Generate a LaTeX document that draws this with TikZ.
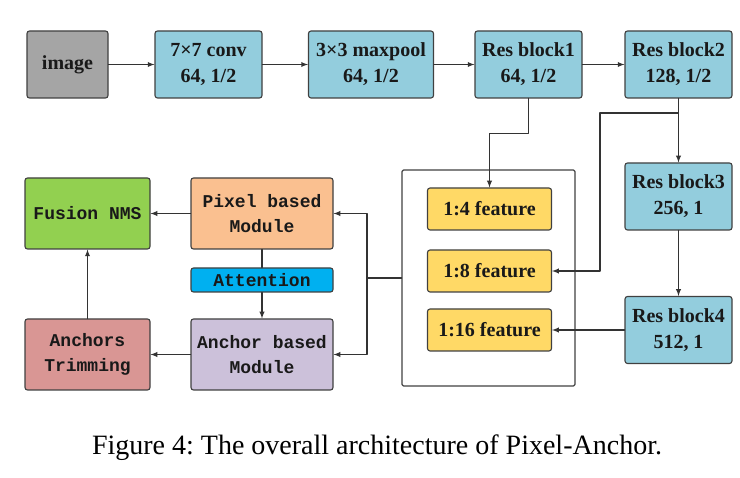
\documentclass[tikz,border=0pt]{standalone}
\usepackage{fontspec}
\setmainfont{Liberation Serif}
\newfontfamily\codefont{Liberation Mono}
\usepackage{xcolor}
\usepackage{tikz}
\usetikzlibrary{
    arrows,
    arrows.meta,
    calc
}
\definecolor{imggray}{HTML}{A5A5A5}
\definecolor{resblue}{HTML}{93CDDD}
\definecolor{featyellow}{HTML}{FFD966}
\definecolor{fusegreen}{HTML}{92D050}
\definecolor{pixpeach}{HTML}{FAC090}
\definecolor{attncyan}{HTML}{00B0F0}
\definecolor{anclilac}{HTML}{CCC1DA}
\definecolor{trimred}{HTML}{D99694}
\frenchspacing

\begin{document}
\begin{tikzpicture}[x=1pt,y=-1pt,line cap=round,line join=round,
   blk/.style={draw=black!75,line width=1.1pt,rounded corners=2.5pt,
     align=center,inner sep=0pt,text=black!90},
   netbox/.style={blk,minimum width=107pt,minimum height=67pt,
     font=\fontsize{20}{26}\selectfont\bfseries},
   featbox/.style={blk,fill=featyellow,minimum width=124pt,minimum height=42pt,
     font=\fontsize{20}{26}\selectfont\bfseries},
   modbox/.style={blk,minimum height=71pt,
     font=\fontsize{18}{25}\selectfont\codefont\bfseries},
   arr/.style={-latex,line width=1.3pt,black!80},
   lin/.style={line width=1.3pt,black!80}]
\useasboundingbox (0,0) rectangle (740,478);
\def\toprow{64.5}
% backbone, top row
\node[netbox,fill=imggray,minimum width=81pt] (img)   at (67.5,\toprow)  {image};
\node[netbox,fill=resblue]                    (conv)  at (208.5,\toprow) {7×7 conv\\64, 1/2};
\node[netbox,fill=resblue,minimum width=125pt](pool)  at (371,\toprow)   {3×3 maxpool\\64, 1/2};
\node[netbox,fill=resblue]                    (rbone) at (528.5,\toprow) {Res block1\\64, 1/2};
\node[netbox,fill=resblue]                    (rbtwo) at (678.5,\toprow) {Res block2\\128, 1/2};
% backbone, right column
\node[netbox,fill=resblue] (rbthree) at (678.5,196.5) {Res block3\\256, 1};
\node[netbox,fill=resblue] (rbfour)  at (678.5,330)   {Res block4\\512, 1};
% feature maps
\node[blk,rounded corners=1.5pt,fill=none,minimum width=173pt,minimum height=216pt] (feats) at (488.5,278) {};
\node[featbox] (ffour)    at (489.5,209) {1:4 feature};
\node[featbox] (feight)   at (489.5,271) {1:8 feature};
\node[featbox] (fsixteen) at (489.5,330) {1:16 feature};
% detection heads
\node[modbox,fill=fusegreen,minimum width=125pt] (fusion) at (87.5,213.5)  {Fusion NMS};
\node[modbox,fill=pixpeach,minimum width=142pt]  (pixel)  at (262,213.5)   {Pixel based\\Module};
\node[blk,fill=attncyan,minimum width=142pt,minimum height=24pt,
      font=\fontsize{18}{20}\selectfont\codefont\bfseries] (attn) at (262,280) {Attention};
\node[modbox,fill=anclilac,minimum width=142pt]  (anchor) at (262,354.5)   {Anchor based\\Module};
\node[modbox,fill=trimred,minimum width=125pt]   (trim)   at (87.5,354.5)  {Anchors\\Trimming};
% connectors
\foreach\a/\b in {img/conv,conv/pool,pool/rbone,rbone/rbtwo,rbtwo/rbthree,rbthree/rbfour,
                  rbfour/fsixteen,pixel/fusion,attn/anchor,anchor/trim,trim/fusion}
  \draw[arr] (\a) -- (\b);
\draw[lin] (pixel) -- (attn);
\draw[arr] (rbone.south) -- ++(0,35) -| (ffour.north);
\coordinate (split) at (678.5,113);
\coordinate (turn)  at (600,113);
\draw[arr] (split) -- (turn) |- (feight.east);
\coordinate (bus) at (367,278);
\draw[lin] (feats.west) -- (bus);
\draw[arr] (bus) |- (pixel.east);
\draw[arr] (bus) |- (anchor.east);
% caption
\node[anchor=base,font=\fontsize{28}{32}\selectfont] (caption) at (377,455)
  {Figure 4: The overall architecture of Pixel-Anchor.};
\end{tikzpicture}
\end{document}
